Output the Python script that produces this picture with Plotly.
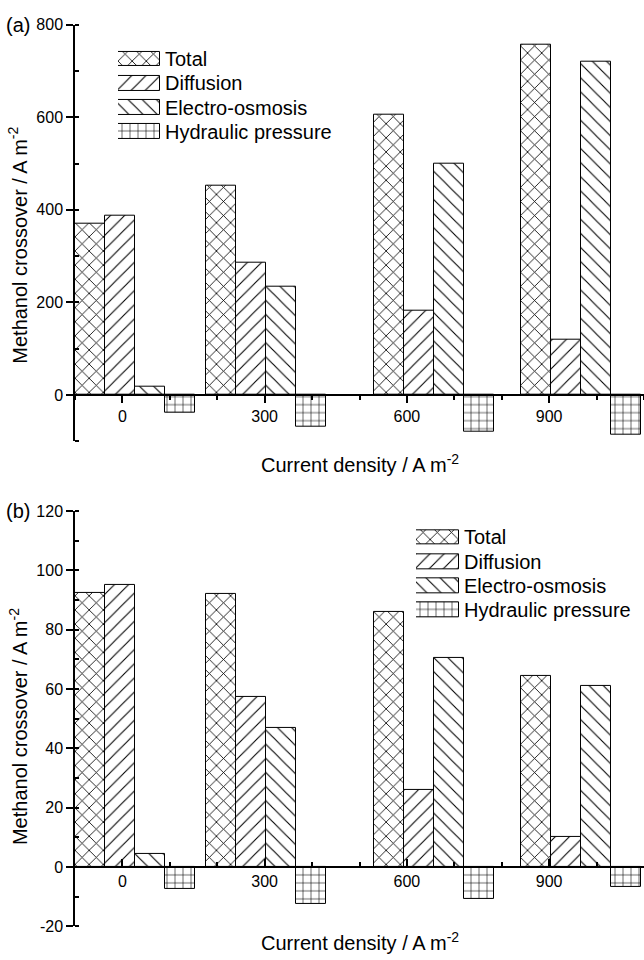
import plotly.graph_objects as go

# ---------------- data ----------------
current_density = [0, 300, 600, 900]
series_names = ["Total", "Diffusion", "Electro-osmosis", "Hydraulic pressure"]

# panel (a)
a_total = [370, 453, 606, 757]
a_diffusion = [387, 285, 183, 119]
a_electro = [17, 234, 500, 721]
a_hydraulic = [-38, -68, -79, -85]

# panel (b)
b_total = [92.3, 92.2, 86.1, 64.5]
b_diffusion = [95.0, 57.3, 26.0, 10.0]
b_electro = [4.4, 47.0, 70.6, 61.0]
b_hydraulic = [-7.5, -12.5, -10.7, -6.8]

x_ticks = [0, 300, 600, 900]
a_yticks = [0, 200, 400, 600, 800]
b_yticks = [-20, 0, 20, 40, 60, 80, 100, 120]

# ---------------- styling / layout helpers ----------------
W, H = 644, 960
ML = 75
PW = W - ML
FONT = "Liberation Sans, Arial, sans-serif"
patterns = ["x", "/", "\\", "+"]
psizes = [10, 10, 10, 8]
psolid = [0.16, 0.11, 0.11, 0.14]
bar_w = 63.3
group_start = [-100, -123, -70, -59]   # left edge of each group relative to its x value


def px_y(p):
    return 1 - p / H


def px_x(p):
    return (p - ML) / PW


panels = [
    dict(vals=[a_total, a_diffusion, a_electro, a_hydraulic], yr=[-100, 800], yt=a_yticks, mdt=100,
         top=17, bot=441, xticks_dir="outside", label="(a)",
         leg_left=118, leg_right=160, leg_rows=[52, 126], ytitle_c=242, xtitle_y=464),
    dict(vals=[b_total, b_diffusion, b_electro, b_hydraulic], yr=[-20, 120], yt=b_yticks, mdt=10,
         top=512, bot=935, xticks_dir="inside", label="(b)",
         leg_left=416, leg_right=459, leg_rows=[539, 613], ytitle_c=732, xtitle_y=950),
]

fig = go.Figure()
layout = dict(width=W, height=H, margin=dict(l=ML, r=0, t=0, b=0),
              paper_bgcolor="white", plot_bgcolor="rgba(0,0,0,0)",
              showlegend=False, font=dict(family=FONT, color="black"),
              bargap=0, annotations=[])

ax_common = dict(showgrid=False, zeroline=False, linecolor="black", linewidth=1.5,
                 tickcolor="black", tickwidth=1.5)

for pi, P in enumerate(panels):
    base = 1 + pi * 5
    xid, yid = base, base
    xname = "xaxis" if xid == 1 else f"xaxis{xid}"
    yname = "yaxis" if yid == 1 else f"yaxis{yid}"
    xref = "x" if xid == 1 else f"x{xid}"
    yref = "y" if yid == 1 else f"y{yid}"
    dom = [px_y(P["bot"]), px_y(P["top"])]
    y0, y1 = P["yr"]
    zero_pos = dom[0] + (0 - y0) / (y1 - y0) * (dom[1] - dom[0])

    # bars
    for si, name in enumerate(series_names):
        offs = [g + si * bar_w for g in group_start]
        fig.add_trace(go.Bar(
            x=current_density, y=P["vals"][si], name=name, width=bar_w, offset=offs,
            xaxis=xref, yaxis=yref,
            marker=dict(color="white", line=dict(color="black", width=1),
                        pattern=dict(shape=patterns[si], size=psizes[si], solidity=psolid[si],
                                     fgcolor="black", bgcolor="white", fillmode="replace")),
        ))

    # main x axis on the zero line
    layout[xname] = dict(ax_common, domain=[0, 1], range=[-100, 1100], anchor="free", position=zero_pos,
                         tickmode="array", tickvals=x_ticks, ticktext=[str(v) for v in x_ticks],
                         ticks=P["xticks_dir"], ticklen=7,
                         minor=dict(dtick=100, tick0=0, ticks=P["xticks_dir"], ticklen=4,
                                    tickcolor="black", tickwidth=1.5),
                         tickfont=dict(size=16), showline=True)
    # main left y axis
    layout[yname] = dict(ax_common, domain=dom, range=P["yr"], anchor=xref, showline=True,
                         tickmode="array", tickvals=P["yt"], ticktext=[str(v) for v in P["yt"]],
                         ticks="outside", ticklen=7,
                         minor=dict(dtick=P["mdt"], tick0=0, ticks="inside", ticklen=4,
                                    tickcolor="black", tickwidth=1.5),
                         tickfont=dict(size=16))
    # top x axis
    tx = base + 1
    layout[f"xaxis{tx}"] = dict(ax_common, overlaying=xref, side="top", anchor=yref, range=[-100, 1100],
                                tick0=0, dtick=100, ticks="inside", ticklen=7, showticklabels=False,
                                showline=True)
    # right y axis (its line falls just outside the window; only ticks show)
    layout[f"yaxis{tx}"] = dict(ax_common, overlaying=yref, side="right", anchor=xref, range=P["yr"],
                                tickmode="array", tickvals=P["yt"], ticks="inside", ticklen=7,
                                showticklabels=False,
                                minor=dict(dtick=P["mdt"], tick0=0, ticks="inside", ticklen=4,
                                           tickcolor="black", tickwidth=1.5),
                                showline=False)
    # inner half of major left ticks
    li = base + 2
    layout[f"yaxis{li}"] = dict(ax_common, overlaying=yref, side="left", anchor=xref, range=P["yr"],
                                tickmode="array", tickvals=P["yt"], ticks="inside", ticklen=7,
                                showticklabels=False, showline=False)

    # legend built from small swatch bars on a hidden axis pair
    lx, ly = base + 3, base + 3
    row_h = (P["leg_rows"][1] - P["leg_rows"][0]) / 3
    ltop = P["leg_rows"][0] - row_h / 2
    lbot = P["leg_rows"][1] + row_h / 2
    layout[f"xaxis{lx}"] = dict(domain=[px_x(P["leg_left"]), px_x(P["leg_right"])], range=[0, 1],
                                anchor=f"y{ly}", visible=False)
    layout[f"yaxis{ly}"] = dict(domain=[px_y(lbot), px_y(ltop)], range=[3.5, -0.5], anchor=f"x{lx}",
                                side="right", showgrid=False, zeroline=False, showline=False, ticks="",
                                type="category", tickfont=dict(size=20), ticklabelstandoff=4)
    for si, name in enumerate(series_names):
        fig.add_trace(go.Bar(
            y=[name], x=[1], orientation="h", width=15 / row_h, base=0,
            xaxis=f"x{lx}", yaxis=f"y{ly}", hoverinfo="skip",
            marker=dict(color="white", line=dict(color="black", width=1),
                        pattern=dict(shape=patterns[si], size=psizes[si], solidity=psolid[si],
                                     fgcolor="black", bgcolor="white", fillmode="replace")),
        ))

    # panel label & axis titles
    layout["annotations"] += [
        dict(text=P["label"], xref="paper", yref="paper", x=px_x(18), y=px_y(P["top"]),
             showarrow=False, xanchor="center", yanchor="middle", font=dict(size=20)),
        dict(text="Methanol crossover / A m<sup>-2</sup>", xref="paper", yref="paper",
             x=px_x(18), y=px_y(P["ytitle_c"]), textangle=-90, showarrow=False,
             xanchor="center", yanchor="middle", font=dict(size=20)),
        dict(text="Current density / A m<sup>-2</sup>", xref="paper", yref="paper",
             x=px_x(360), y=px_y(P["xtitle_y"]), showarrow=False,
             xanchor="center", yanchor="middle", font=dict(size=20)),
    ]

fig.update_layout(**layout)
fig.write_html("out.html")
